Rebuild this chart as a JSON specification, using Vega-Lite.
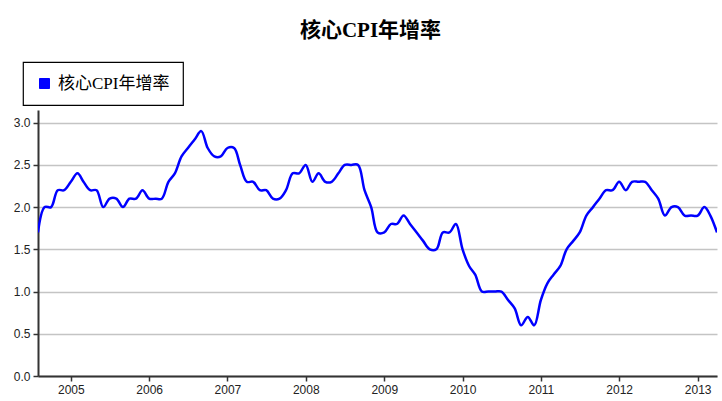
{
  "$schema": "https://vega.github.io/schema/vega-lite/v6.json",
  "width": 679,
  "height": 266,
  "autosize": "none",
  "padding": {"left": 38, "top": 110, "right": 5, "bottom": 25},
  "background": "white",
  "title": {
    "text": "核心CPI年增率",
    "font": "Liberation Serif, Noto Sans CJK TC",
    "fontSize": 21,
    "fontWeight": "bold",
    "color": "#000000",
    "anchor": "middle",
    "frame": "group",
    "offset": 20,
    "dx": -7
  },
  "data": {
    "values": [
      {"date": "2004-08-01", "value": 1.7},
      {"date": "2004-09-01", "value": 2.0},
      {"date": "2004-10-01", "value": 2.0},
      {"date": "2004-11-01", "value": 2.2},
      {"date": "2004-12-01", "value": 2.2},
      {"date": "2005-01-01", "value": 2.3},
      {"date": "2005-02-01", "value": 2.4},
      {"date": "2005-03-01", "value": 2.3},
      {"date": "2005-04-01", "value": 2.2},
      {"date": "2005-05-01", "value": 2.2},
      {"date": "2005-06-01", "value": 2.0},
      {"date": "2005-07-01", "value": 2.1},
      {"date": "2005-08-01", "value": 2.1},
      {"date": "2005-09-01", "value": 2.0},
      {"date": "2005-10-01", "value": 2.1},
      {"date": "2005-11-01", "value": 2.1},
      {"date": "2005-12-01", "value": 2.2},
      {"date": "2006-01-01", "value": 2.1},
      {"date": "2006-02-01", "value": 2.1},
      {"date": "2006-03-01", "value": 2.1},
      {"date": "2006-04-01", "value": 2.3},
      {"date": "2006-05-01", "value": 2.4},
      {"date": "2006-06-01", "value": 2.6},
      {"date": "2006-07-01", "value": 2.7},
      {"date": "2006-08-01", "value": 2.8},
      {"date": "2006-09-01", "value": 2.9},
      {"date": "2006-10-01", "value": 2.7},
      {"date": "2006-11-01", "value": 2.6},
      {"date": "2006-12-01", "value": 2.6},
      {"date": "2007-01-01", "value": 2.7},
      {"date": "2007-02-01", "value": 2.7},
      {"date": "2007-03-01", "value": 2.5},
      {"date": "2007-04-01", "value": 2.3},
      {"date": "2007-05-01", "value": 2.3},
      {"date": "2007-06-01", "value": 2.2},
      {"date": "2007-07-01", "value": 2.2},
      {"date": "2007-08-01", "value": 2.1},
      {"date": "2007-09-01", "value": 2.1},
      {"date": "2007-10-01", "value": 2.2},
      {"date": "2007-11-01", "value": 2.4},
      {"date": "2007-12-01", "value": 2.4},
      {"date": "2008-01-01", "value": 2.5},
      {"date": "2008-02-01", "value": 2.3},
      {"date": "2008-03-01", "value": 2.4},
      {"date": "2008-04-01", "value": 2.3},
      {"date": "2008-05-01", "value": 2.3},
      {"date": "2008-06-01", "value": 2.4},
      {"date": "2008-07-01", "value": 2.5},
      {"date": "2008-08-01", "value": 2.5},
      {"date": "2008-09-01", "value": 2.5},
      {"date": "2008-10-01", "value": 2.2},
      {"date": "2008-11-01", "value": 2.0},
      {"date": "2008-12-01", "value": 1.7},
      {"date": "2009-01-01", "value": 1.7},
      {"date": "2009-02-01", "value": 1.8},
      {"date": "2009-03-01", "value": 1.8},
      {"date": "2009-04-01", "value": 1.9},
      {"date": "2009-05-01", "value": 1.8},
      {"date": "2009-06-01", "value": 1.7},
      {"date": "2009-07-01", "value": 1.6},
      {"date": "2009-08-01", "value": 1.5},
      {"date": "2009-09-01", "value": 1.5},
      {"date": "2009-10-01", "value": 1.7},
      {"date": "2009-11-01", "value": 1.7},
      {"date": "2009-12-01", "value": 1.8},
      {"date": "2010-01-01", "value": 1.5},
      {"date": "2010-02-01", "value": 1.3},
      {"date": "2010-03-01", "value": 1.2},
      {"date": "2010-04-01", "value": 1.0},
      {"date": "2010-05-01", "value": 1.0},
      {"date": "2010-06-01", "value": 1.0},
      {"date": "2010-07-01", "value": 1.0},
      {"date": "2010-08-01", "value": 0.9},
      {"date": "2010-09-01", "value": 0.8},
      {"date": "2010-10-01", "value": 0.6},
      {"date": "2010-11-01", "value": 0.7},
      {"date": "2010-12-01", "value": 0.6},
      {"date": "2011-01-01", "value": 0.9},
      {"date": "2011-02-01", "value": 1.1},
      {"date": "2011-03-01", "value": 1.2},
      {"date": "2011-04-01", "value": 1.3},
      {"date": "2011-05-01", "value": 1.5},
      {"date": "2011-06-01", "value": 1.6},
      {"date": "2011-07-01", "value": 1.7},
      {"date": "2011-08-01", "value": 1.9},
      {"date": "2011-09-01", "value": 2.0},
      {"date": "2011-10-01", "value": 2.1},
      {"date": "2011-11-01", "value": 2.2},
      {"date": "2011-12-01", "value": 2.2},
      {"date": "2012-01-01", "value": 2.3},
      {"date": "2012-02-01", "value": 2.2},
      {"date": "2012-03-01", "value": 2.3},
      {"date": "2012-04-01", "value": 2.3},
      {"date": "2012-05-01", "value": 2.3},
      {"date": "2012-06-01", "value": 2.2},
      {"date": "2012-07-01", "value": 2.1},
      {"date": "2012-08-01", "value": 1.9},
      {"date": "2012-09-01", "value": 2.0},
      {"date": "2012-10-01", "value": 2.0},
      {"date": "2012-11-01", "value": 1.9},
      {"date": "2012-12-01", "value": 1.9},
      {"date": "2013-01-01", "value": 1.9},
      {"date": "2013-02-01", "value": 2.0},
      {"date": "2013-03-01", "value": 1.9},
      {"date": "2013-04-01", "value": 1.7}
    ]
  },
  "mark": {"type": "line", "interpolate": "catmull-rom", "strokeWidth": 2.5, "clip": true},
  "encoding": {
    "x": {
      "field": "date",
      "type": "temporal",
      "scale": {"type": "utc", "domain": [{"year": 2004, "month": 8, "date": 1, "utc": true}, {"year": 2013, "month": 4, "date": 1, "utc": true}]},
      "axis": {
        "title": null,
        "format": "%Y",
        "formatType": "utc",
        "values": [
          {"year": 2005, "utc": true}, {"year": 2006, "utc": true}, {"year": 2007, "utc": true},
          {"year": 2008, "utc": true}, {"year": 2009, "utc": true}, {"year": 2010, "utc": true},
          {"year": 2011, "utc": true}, {"year": 2012, "utc": true}, {"year": 2013, "utc": true}
        ],
        "grid": false,
        "domainColor": "#333333",
        "domainWidth": 2,
        "tickColor": "#333333",
        "tickWidth": 1.5,
        "tickSize": 5,
        "labelFont": "Liberation Sans",
        "labelFontSize": 12,
        "labelColor": "#222222",
        "labelPadding": 3,
        "labelFlush": false
      }
    },
    "y": {
      "field": "value",
      "type": "quantitative",
      "scale": {"domain": [0, 3.15], "nice": false, "zero": true},
      "axis": {
        "title": null,
        "values": [0, 0.5, 1, 1.5, 2, 2.5, 3],
        "format": ".1f",
        "grid": true,
        "gridColor": "#c4c4c4",
        "gridWidth": 1.5,
        "domainColor": "#333333",
        "domainWidth": 2,
        "tickColor": "#333333",
        "tickWidth": 1.5,
        "tickSize": 5,
        "labelFont": "Liberation Sans",
        "labelFontSize": 12,
        "labelColor": "#222222",
        "labelPadding": 3
      }
    },
    "color": {
      "datum": "核心CPI年增率",
      "type": "nominal",
      "scale": {"range": ["#0000ff"]},
      "legend": {
        "title": null,
        "orient": "none",
        "legendX": -15,
        "legendY": -48,
        "symbolType": "square",
        "symbolSize": 100,
        "symbolStrokeWidth": 1,
        "labelFont": "Liberation Serif, Noto Sans CJK TC",
        "labelFontSize": 17,
        "labelColor": "#000000",
        "labelOffset": 5,
        "padding": 13,
        "strokeColor": "#000000",
        "fillColor": "#ffffff",
        "cornerRadius": 0,
        "encode": {
          "symbols": {"update": {"fill": {"value": "#0000ff"}, "stroke": {"value": "#000033"}, "strokeWidth": {"value": 1}, "opacity": {"value": 1}}},
          "legend": {"update": {"strokeWidth": {"value": 1.2}}}
        }
      }
    }
  },
  "config": {"view": {"stroke": null}}
}
